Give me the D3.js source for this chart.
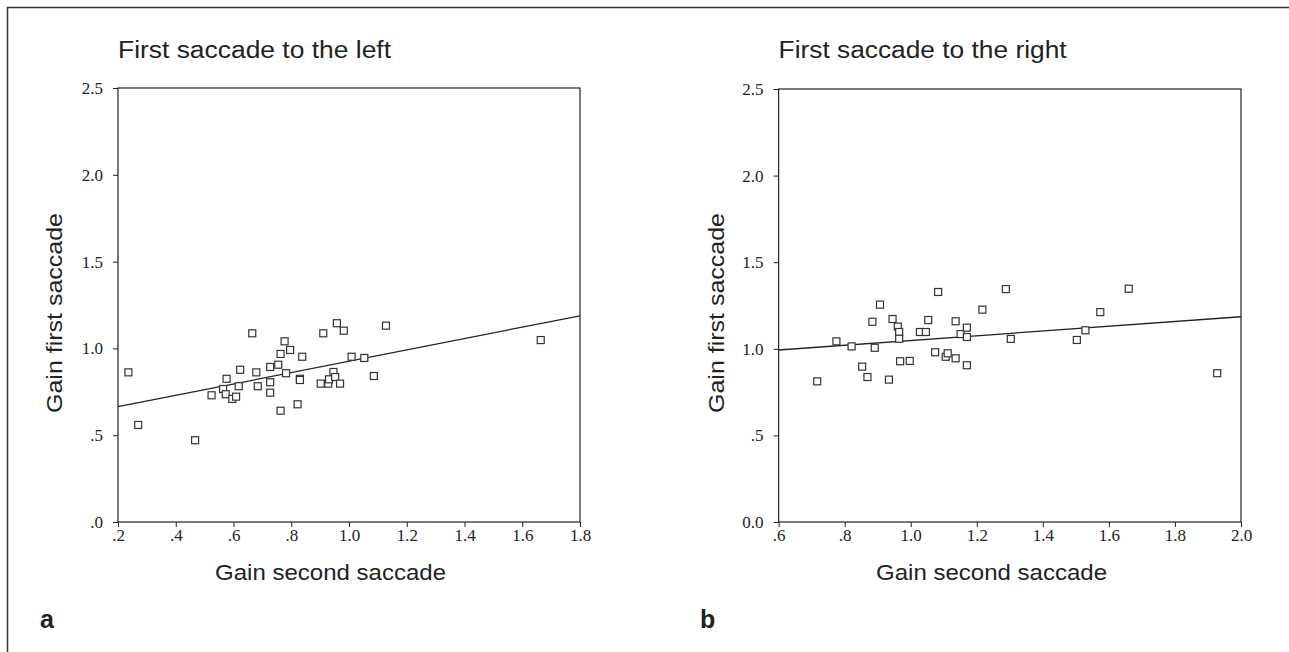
<!DOCTYPE html>
<html lang="en">
  <head>
    <title>saccade gain</title>
    <script src="https://cdn.jsdelivr.net/npm/d3@7"></script>
    <style>
      body {margin:0; background-color:white;}
      .tick line {stroke:#222;}
      .lbl {font-family:"Liberation Sans", Arial, sans-serif; fill:#222;}
    </style>
  </head>
  <body>
    <script>
      // panel a : first saccade to the left
      var leftX = [0.236,0.270,0.467,0.524,0.564,0.573,0.576,0.596,0.609,0.618,0.623,0.665,0.679,0.684,
                   0.727,0.727,0.727,0.755,0.763,0.763,0.777,0.782,0.796,0.822,0.830,0.830,0.838,0.902,
                   0.911,0.928,0.931,0.946,0.952,0.958,0.969,0.982,1.009,1.053,1.086,1.128,1.664];
      var leftY = [0.862,0.559,0.471,0.730,0.766,0.736,0.825,0.709,0.722,0.782,0.877,1.087,0.862,0.782,
                   0.893,0.805,0.745,0.906,0.968,0.641,1.041,0.857,0.991,0.678,0.825,0.818,0.952,0.797,
                   1.087,0.797,0.822,0.864,0.835,1.145,0.797,1.102,0.952,0.945,0.841,1.131,1.048];
      var leftFit = [[0.2, 0.664], [1.8, 1.188]];
      var leftXTicks = [0.2,0.4,0.6,0.8,1.0,1.2,1.4,1.6,1.8];
      var leftXLabels = [".2",".4",".6",".8","1.0","1.2","1.4","1.6","1.8"];
      var leftYTicks = [0,0.5,1.0,1.5,2.0,2.5];
      var leftYLabels = [".0",".5","1.0","1.5","2.0","2.5"];

      // panel b : first saccade to the right
      var rightX = [0.717,0.775,0.821,0.853,0.869,0.884,0.891,0.907,0.934,0.945,0.961,0.965,0.965,0.968,
                    0.997,1.028,1.046,1.053,1.074,1.083,1.106,1.112,1.136,1.136,1.151,1.170,1.170,1.170,
                    1.217,1.288,1.303,1.503,1.529,1.574,1.660,1.928];
      var rightY = [0.812,1.043,1.014,0.897,0.837,1.156,1.006,1.255,0.822,1.172,1.128,1.097,1.058,0.928,
                    0.930,1.097,1.097,1.166,0.980,1.328,0.954,0.974,1.159,0.945,1.085,1.122,1.068,0.905,
                    1.226,1.345,1.057,1.051,1.107,1.212,1.347,0.859];
      var rightFit = [[0.6, 0.993], [2.0, 1.185]];
      var rightXTicks = [0.6,0.8,1.0,1.2,1.4,1.6,1.8,2.0];
      var rightXLabels = [".6",".8","1.0","1.2","1.4","1.6","1.8","2.0"];
      var rightYTicks = [0,0.5,1.0,1.5,2.0,2.5];
      var rightYLabels = ["0.0",".5","1.0","1.5","2.0","2.5"];

      const svg = d3.select('body').append('svg').attr('width', 1289).attr('height', 652);

      // outer frame
      svg.append('path').attr('d', 'M7.5,652 V7.5 H1289').attr('fill', 'none').attr('stroke', '#333').attr('stroke-width', 1.5);

      function panel(p) {
        const x = d3.scaleLinear().domain(p.xDom).range([p.left, p.right]);
        const y = d3.scaleLinear().domain([0, 2.5]).range([p.bottom, p.top]);
        const g = svg.append('g');

        const tickText = s => s.selectAll('text')
          .attr('font-family', '"Liberation Serif", serif')
          .attr('font-size', 17)
          .attr('fill', '#222');

        g.append('g')
          .attr('transform', `translate(0, ${p.bottom})`)
          .call(d3.axisBottom(x).tickValues(p.xTicks).tickFormat((d, i) => p.xLabels[i]).tickSize(5).tickPadding(2))
          .call(g => g.select('.domain').remove())
          .call(tickText);
        g.append('g')
          .attr('transform', `translate(${p.left}, 0)`)
          .call(d3.axisLeft(y).tickValues(p.yTicks).tickFormat((d, i) => p.yLabels[i]).tickSize(5).tickPadding(10))
          .call(g => g.select('.domain').remove())
          .call(tickText);

        g.append('rect')
          .attr('x', p.left).attr('y', p.top)
          .attr('width', p.right - p.left).attr('height', p.bottom - p.top)
          .attr('fill', 'none').attr('stroke', '#222').attr('stroke-width', 1.2);

        g.append('line')
          .attr('x1', x(p.fit[0][0])).attr('y1', y(p.fit[0][1]))
          .attr('x2', x(p.fit[1][0])).attr('y2', y(p.fit[1][1]))
          .attr('stroke', '#222').attr('stroke-width', 1.3);

        g.append('g').selectAll('rect').data(p.xs).enter().append('rect')
          .attr('x', (d, i) => x(d) - 3.5)
          .attr('y', (d, i) => y(p.ys[i]) - 3.5)
          .attr('width', 7).attr('height', 7)
          .attr('fill', 'white').attr('stroke', '#333').attr('stroke-width', 1.2);

        g.append('text').attr('class', 'lbl')
          .attr('x', p.left).attr('y', 58)
          .attr('font-size', 23).attr('textLength', p.titleLen).attr('lengthAdjust', 'spacingAndGlyphs')
          .text(p.title);
        g.append('text').attr('class', 'lbl')
          .attr('x', p.xLabelX).attr('y', 580)
          .attr('font-size', 22).attr('textLength', 231).attr('lengthAdjust', 'spacingAndGlyphs')
          .text('Gain second saccade');
        g.append('text').attr('class', 'lbl')
          .attr('transform', `translate(${p.yLabelX}, 413) rotate(-90)`)
          .attr('font-size', 22).attr('textLength', 200).attr('lengthAdjust', 'spacingAndGlyphs')
          .text('Gain first saccade');
        g.append('text').attr('class', 'lbl')
          .attr('x', p.letterX).attr('y', 628)
          .attr('font-size', 25).attr('font-weight', 'bold')
          .text(p.letter);
      }

      panel({xDom: [0.2, 1.8], left: 118, right: 580, top: 88, bottom: 522,
             xs: leftX, ys: leftY, fit: leftFit,
             xTicks: leftXTicks, xLabels: leftXLabels, yTicks: leftYTicks, yLabels: leftYLabels,
             title: 'First saccade to the left', titleLen: 273, xLabelX: 215, yLabelX: 62,
             letter: 'a', letterX: 40});

      panel({xDom: [0.6, 2.0], left: 778.6, right: 1241, top: 89, bottom: 522,
             xs: rightX, ys: rightY, fit: rightFit,
             xTicks: rightXTicks, xLabels: rightXLabels, yTicks: rightYTicks, yLabels: rightYLabels,
             title: 'First saccade to the right', titleLen: 288, xLabelX: 876, yLabelX: 724,
             letter: 'b', letterX: 700});
    </script>
  </body>
</html>
